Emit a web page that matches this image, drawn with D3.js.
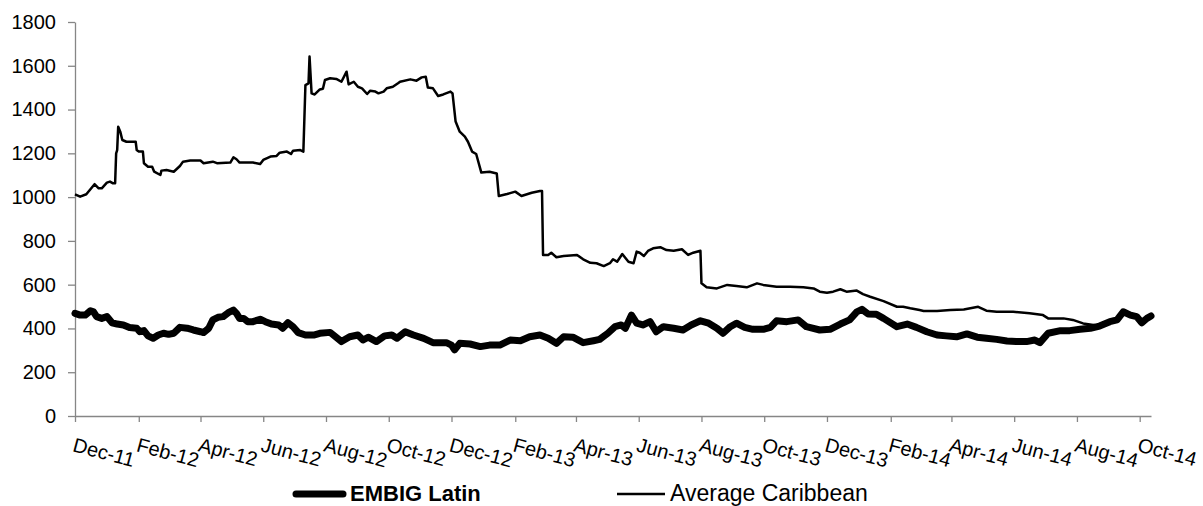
<!DOCTYPE html>
<html>
<head>
<meta charset="utf-8">
<script src="https://cdn.jsdelivr.net/npm/d3@7"></script>
<style>
  body { margin: 0; background: #fff; }
  svg { display: block; font-family: "Liberation Sans", Arial, sans-serif; }
  .axis path, .axis line { stroke: #868686; stroke-width: 1.3; }
  .axis text { fill: #000; font-size: 20px; }
</style>
</head>
<body>
<svg id="chart" width="1203" height="506"></svg>
<script>
// day offsets from 1 Dec 2011, values in bp
var startDate = new Date(2011, 11, 1);
var endDay = 1046;

var caribDays = [0, 5, 11, 19, 23, 26, 31, 34, 37, 39, 40, 41, 42, 44, 46, 50, 59, 60, 62, 66,
  67, 71, 75, 77, 83, 84, 89, 96, 102, 105, 112, 122, 125, 134, 138, 151, 154, 157, 160, 173,
  180, 183, 190, 196, 199, 206, 210, 212, 219, 222, 224, 227, 228, 230, 233, 238, 241, 243, 248, 254,
  259, 264, 266, 271, 275, 279, 284, 287, 292, 295, 300, 303, 309, 314, 316, 326, 332, 337, 341, 343,
  348, 353, 358, 365, 367, 370, 374, 379, 382, 386, 390, 395, 403, 410, 412, 420, 428, 434, 444, 452,
  454, 455, 460, 463, 468, 475, 488, 494, 501, 507, 514, 520, 523, 527, 532, 538, 543, 546, 549, 553,
  557, 562, 569, 575, 582, 590, 596, 601, 608, 609, 614, 624, 634, 643, 653, 663, 669, 682, 695, 708,
  718, 724, 731, 737, 744, 750, 760, 766, 773, 786, 799, 805, 812, 821, 825, 838, 851, 864, 878, 886,
  896, 912, 928, 941, 946, 961, 970, 980, 990, 996];
var caribValues = [1013, 1002, 1013, 1059, 1040, 1040, 1066, 1071, 1063, 1063, 1200, 1215, 1322, 1299, 1261, 1253, 1253, 1215, 1208, 1208,
  1155, 1139, 1139, 1116, 1101, 1121, 1124, 1116, 1142, 1162, 1167, 1167, 1155, 1162, 1155, 1158, 1182, 1173, 1158, 1158,
  1151, 1170, 1185, 1188, 1203, 1208, 1197, 1212, 1215, 1208, 1512, 1520, 1642, 1474, 1469, 1492, 1495, 1535, 1543, 1540,
  1527, 1573, 1515, 1527, 1504, 1497, 1471, 1486, 1482, 1474, 1482, 1497, 1504, 1520, 1527, 1538, 1532, 1547, 1550, 1501,
  1497, 1462, 1469, 1482, 1474, 1345, 1299, 1276, 1253, 1208, 1197, 1112, 1116, 1108, 1005, 1014, 1025, 1005, 1020, 1028,
  1028, 736, 736, 746, 725, 731, 736, 716, 700, 698, 685, 698, 716, 705, 740, 705, 698, 751, 746, 731,
  754, 766, 771, 758, 755, 762, 736, 746, 755, 606, 588, 583, 599, 594, 588, 606, 599, 591, 591, 588,
  583, 568, 563, 568, 579, 568, 573, 557, 545, 525, 499, 499, 492, 484, 480, 480, 484, 487, 499, 481,
  476, 476, 469, 461, 446, 446, 439, 423, 416, 412];

var embigDays = [0, 5, 10, 15, 18, 21, 26, 31, 36, 41, 47, 53, 60, 63, 67, 71, 76, 81, 86, 91,
  96, 102, 109, 115, 122, 125, 130, 134, 139, 144, 149, 154, 157, 160, 164, 168, 173, 180, 185, 191,
  198, 202, 207, 212, 217, 224, 232, 238, 248, 259, 267, 275, 280, 285, 293, 301, 308, 313, 321, 329,
  339, 348, 361, 366, 369, 374, 384, 394, 403, 413, 423, 433, 442, 452, 460, 468, 475, 484, 494, 504,
  510, 518, 525, 531, 535, 541, 546, 552, 559, 565, 572, 582, 591, 599, 608, 616, 624, 630, 637, 643,
  651, 659, 669, 676, 682, 692, 703, 711, 724, 734, 744, 753, 760, 765, 771, 779, 786, 799, 809, 818,
  828, 838, 847, 857, 867, 877, 886, 896, 906, 915, 925, 933, 938, 946, 958, 967, 977, 987, 996, 1006,
  1013, 1019, 1026, 1032, 1037, 1042, 1046];
var embigValues = [469, 461, 461, 481, 476, 454, 446, 454, 426, 420, 416, 404, 401, 385, 390, 366, 355, 370, 378, 373,
  378, 405, 401, 393, 385, 381, 401, 439, 451, 454, 472, 484, 469, 446, 446, 431, 431, 442, 431, 420,
  416, 401, 426, 408, 381, 370, 370, 378, 382, 340, 362, 370, 347, 360, 340, 366, 370, 355, 385, 370,
  355, 335, 335, 324, 302, 332, 329, 317, 324, 324, 347, 344, 362, 370, 355, 332, 362, 360, 335, 344,
  350, 378, 408, 416, 401, 461, 424, 416, 431, 385, 408, 401, 393, 416, 435, 424, 401, 378, 408, 424,
  405, 396, 396, 405, 435, 431, 439, 408, 393, 396, 420, 439, 476, 487, 466, 465, 446, 408, 420, 405,
  385, 370, 366, 362, 375, 360, 355, 350, 343, 340, 340, 347, 335, 378, 390, 390, 396, 401, 411, 431,
  439, 476, 461, 454, 426, 446, 457];

var tickDates = ["2011-12-01", "2012-02-01", "2012-04-01", "2012-06-01", "2012-08-01", "2012-10-01",
  "2012-12-01", "2013-02-01", "2013-04-01", "2013-06-01", "2013-08-01", "2013-10-01",
  "2013-12-01", "2014-02-01", "2014-04-01", "2014-06-01", "2014-08-01", "2014-10-01"];
var tickLabels = ["Dec-11", "Feb-12", "Apr-12", "Jun-12", "Aug-12", "Oct-12", "Dec-12", "Feb-13",
  "Apr-13", "Jun-13", "Aug-13", "Oct-13", "Dec-13", "Feb-14", "Apr-14", "Jun-14", "Aug-14", "Oct-14"];
var yTicks = [0, 200, 400, 600, 800, 1000, 1200, 1400, 1600, 1800];

var seriesNames = ["EMBIG Latin", "Average Caribbean"];

var svg = d3.select("#chart");

var parse = d3.timeParse("%Y-%m-%d");
function dayToDate(d) { return d3.timeDay.offset(startDate, d); }

var x = d3.scaleTime()
    .domain([startDate, dayToDate(endDay)])
    .range([75, 1151]);

var y = d3.scaleLinear()
    .domain([0, 1800])
    .range([416, 22]);

// y axis
var yAxis = svg.append("g")
    .attr("class", "axis")
    .attr("transform", "translate(75,0)")
    .call(d3.axisLeft(y)
        .tickValues(yTicks)
        .tickFormat(d3.format("d"))
        .tickSize(7)
        .tickPadding(12)
        .tickSizeOuter(0));

// x axis
var xAxis = svg.append("g")
    .attr("class", "axis")
    .attr("transform", "translate(0,416)")
    .call(d3.axisBottom(x)
        .tickValues(tickDates.map(parse))
        .tickFormat(function(d, i) { return tickLabels[i]; })
        .tickSize(6)
        .tickSizeOuter(0));

xAxis.selectAll("text")
    .attr("text-anchor", "start")
    .attr("dy", null)
    .attr("y", 0)
    .attr("dominant-baseline", "hanging")
    .attr("transform", "translate(0,21) rotate(15)");

var line = d3.line()
    .x(function(d) { return x(dayToDate(d[0])); })
    .y(function(d) { return y(d[1]); });

var carib = d3.zip(caribDays, caribValues);
var embig = d3.zip(embigDays, embigValues);

svg.append("path")
    .datum(carib)
    .attr("d", line)
    .attr("fill", "none")
    .attr("stroke", "#000")
    .attr("stroke-width", 2.5)
    .attr("stroke-linejoin", "round");

svg.append("path")
    .datum(embig)
    .attr("d", line)
    .attr("fill", "none")
    .attr("stroke", "#000")
    .attr("stroke-width", 7)
    .attr("stroke-linejoin", "round")
    .attr("stroke-linecap", "round");

// legend
var legend = svg.append("g");

legend.append("line")
    .attr("x1", 296).attr("x2", 343)
    .attr("y1", 494).attr("y2", 494)
    .attr("stroke", "#000")
    .attr("stroke-width", 7)
    .attr("stroke-linecap", "round");

legend.append("text")
    .attr("x", 350)
    .attr("y", 501)
    .attr("font-size", "22px")
    .attr("font-weight", "bold")
    .text(seriesNames[0]);

legend.append("line")
    .attr("x1", 617).attr("x2", 665)
    .attr("y1", 494).attr("y2", 494)
    .attr("stroke", "#000")
    .attr("stroke-width", 2.5);

legend.append("text")
    .attr("x", 670)
    .attr("y", 501)
    .attr("font-size", "23px")
    .text(seriesNames[1]);
</script>
</body>
</html>
